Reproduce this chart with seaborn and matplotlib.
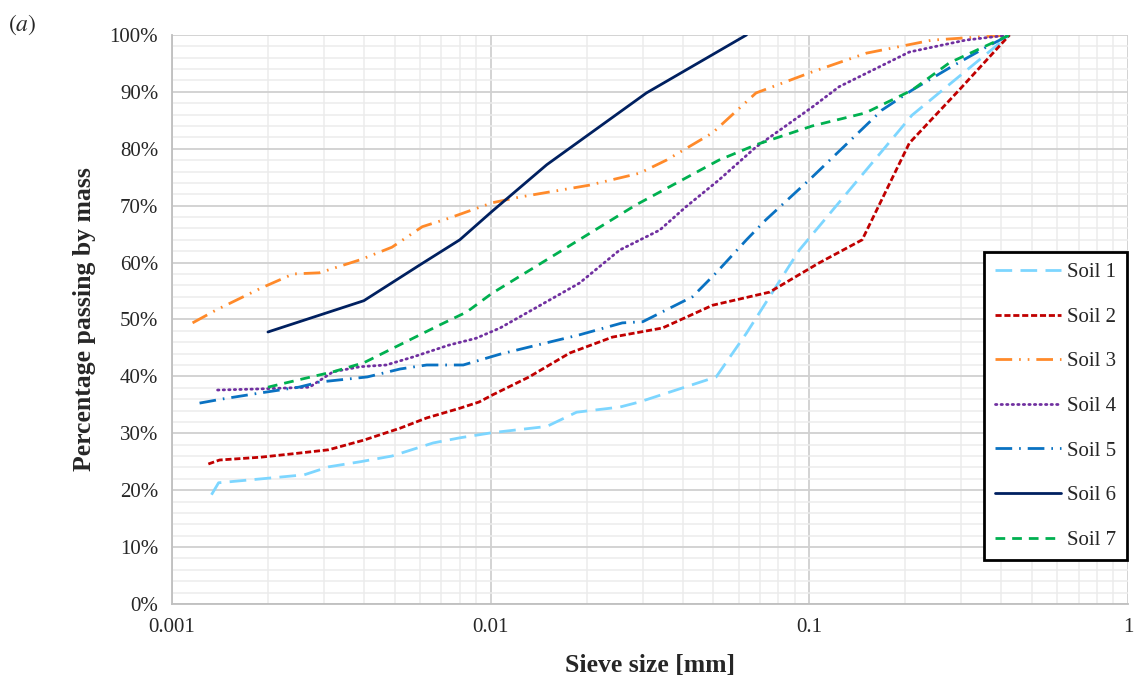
import numpy as np
import pandas as pd
import seaborn as sns
import matplotlib.pyplot as plt
from matplotlib.ticker import FixedLocator, FuncFormatter, MultipleLocator, LogLocator, NullFormatter

# Grain size distribution data (sieve size in mm, percentage passing)
soil1_size = [0.00133, 0.0014, 0.002, 0.0026, 0.0031, 0.0039, 0.0049, 0.0066, 0.008, 0.0101, 0.015, 0.0186, 0.0254, 0.0293, 0.051, 0.0635, 0.093, 0.21, 0.425]
soil1_pass = [19.2, 21.3, 22.1, 22.7, 24.1, 25.0, 26.0, 28.3, 29.2, 30.1, 31.2, 33.7, 34.6, 35.5, 39.9, 47.6, 62.2, 85.9, 100]

soil2_size = [0.0013, 0.00141, 0.0019, 0.0024, 0.0031, 0.004, 0.0052, 0.0063, 0.008, 0.0092, 0.0101, 0.0132, 0.0177, 0.0241, 0.0346, 0.0497, 0.075, 0.107, 0.1465, 0.206, 0.295, 0.425]
soil2_pass = [24.6, 25.3, 25.8, 26.4, 27.1, 28.8, 30.9, 32.7, 34.4, 35.5, 36.7, 39.9, 44.1, 46.9, 48.5, 52.5, 54.8, 59.9, 64.0, 81.0, 90.3, 100]

soil3_size = [0.00116, 0.00138, 0.0019, 0.0024, 0.0029, 0.0039, 0.0049, 0.0061, 0.0074, 0.0101, 0.0123, 0.0204, 0.0293, 0.0356, 0.0497, 0.068, 0.102, 0.151, 0.243, 0.425]
soil3_pass = [49.4, 51.7, 55.5, 58.0, 58.2, 60.5, 62.7, 66.3, 67.8, 70.5, 71.5, 73.6, 75.7, 78.0, 82.8, 89.8, 93.5, 96.8, 99.1, 100]

soil4_size = [0.00139, 0.0019, 0.0027, 0.0032, 0.0039, 0.0047, 0.0057, 0.0074, 0.009, 0.0107, 0.0168, 0.019, 0.0254, 0.0339, 0.041, 0.052, 0.068, 0.102, 0.124, 0.206, 0.31, 0.425]
soil4_pass = [37.6, 37.8, 38.1, 40.8, 41.7, 42.0, 43.4, 45.5, 46.7, 48.5, 54.7, 56.4, 62.2, 65.7, 69.8, 74.5, 80.3, 87.3, 90.9, 97.0, 99.1, 100]

soil5_size = [0.00122, 0.00143, 0.0019, 0.0025, 0.0029, 0.0041, 0.0052, 0.0063, 0.0082, 0.0107, 0.0133, 0.019, 0.0259, 0.03, 0.043, 0.051, 0.0635, 0.073, 0.102, 0.169, 0.21, 0.275, 0.36, 0.425]
soil5_pass = [35.3, 36.0, 37.1, 38.1, 39.0, 39.9, 41.3, 42.0, 42.0, 43.9, 45.2, 47.3, 49.4, 49.6, 54.0, 58.2, 64.0, 67.5, 75.0, 86.8, 90.3, 94.2, 97.9, 100]

soil6_size = [0.002, 0.004, 0.006, 0.008, 0.0101, 0.015, 0.0308, 0.0635]
soil6_pass = [47.8, 53.3, 59.6, 64.0, 69.0, 77.2, 89.8, 100]

soil7_size = [0.002, 0.0025, 0.0032, 0.004, 0.0069, 0.0084, 0.0101, 0.015, 0.0285, 0.052, 0.068, 0.102, 0.15, 0.21, 0.275, 0.425]
soil7_pass = [38.1, 39.4, 40.8, 42.4, 49.0, 51.3, 54.6, 60.5, 70.1, 78.0, 80.7, 84.0, 86.3, 90.3, 95.1, 100]

soil_names = ["Soil 1", "Soil 2", "Soil 3", "Soil 4", "Soil 5", "Soil 6", "Soil 7"]
soil_sizes = [soil1_size, soil2_size, soil3_size, soil4_size, soil5_size, soil6_size, soil7_size]
soil_passing = [soil1_pass, soil2_pass, soil3_pass, soil4_pass, soil5_pass, soil6_pass, soil7_pass]

colors = ["#7DD6FF", "#C00000", "#FF8A2A", "#7030A0", "#0A72C2", "#002060", "#00B050"]
dashes = [(6, 3), (2.2, 1), (6, 2.5, 0.6, 2.5, 0.6, 2.5), (0.5, 1.5), (6, 2.5, 0.6, 2.5), (), (3.5, 2.5)]

rows = []
for name, xs, ys in zip(soil_names, soil_sizes, soil_passing):
    for x, y in zip(xs, ys):
        rows.append({"Soil": name, "Size": x, "Passing": y})
df = pd.DataFrame(rows)

sns.set_style("white")
plt.rcParams['font.family'] = ['Liberation Serif', 'DejaVu Serif']
plt.rcParams['mathtext.fontset'] = 'stix'

fig = plt.figure(figsize=(11.34, 6.8), dpi=100)
ax = fig.add_axes([0.1517, 0.1118, 0.843, 0.8368])

for i, name in enumerate(soil_names):
    sub = df[df["Soil"] == name]
    sns.lineplot(data=sub, x="Size", y="Passing", ax=ax, color=colors[i],
                 linewidth=2.0, label=name, sort=False, estimator=None)
    ln = ax.get_lines()[-1]
    if dashes[i]:
        ln.set_dashes(dashes[i])
    if i == 3:
        ln.set_dash_capstyle('round')

ax.set_xscale('log')
ax.set_xlim(0.001, 1)
ax.set_ylim(0, 100)

ax.xaxis.set_major_locator(FixedLocator([0.001, 0.01, 0.1, 1]))
ax.xaxis.set_major_formatter(FuncFormatter(lambda v, p: '{:g}'.format(v)))
ax.xaxis.set_minor_locator(LogLocator(base=10, subs=np.arange(2, 10)))
ax.xaxis.set_minor_formatter(NullFormatter())
ax.yaxis.set_major_locator(MultipleLocator(10))
ax.yaxis.set_minor_locator(MultipleLocator(2))
ax.yaxis.set_major_formatter(FuncFormatter(lambda v, p: '%d%%' % v))

ax.grid(True, which='major', color='#d0d0d0', linewidth=1.3)
ax.grid(True, which='minor', color='#ececec', linewidth=1.1)
ax.set_axisbelow(True)

for s in ['top', 'right']:
    ax.spines[s].set_visible(False)
for s in ['left', 'bottom']:
    ax.spines[s].set_color('#bfbfbf')
    ax.spines[s].set_linewidth(1.3)

ax.tick_params(axis='both', which='major', labelsize=15, length=4, color='#bfbfbf', pad=6)
ax.tick_params(axis='both', which='minor', length=0)

ax.set_xlabel("Sieve size [mm]", fontsize=18.5, fontweight='bold', labelpad=12)
ax.set_ylabel("Percentage passing by mass", fontsize=18.5, fontweight='bold')
ax.yaxis.set_label_coords(-0.080, 0.5)

leg = ax.legend(loc='upper right', bbox_to_anchor=(0.999, 0.618), fontsize=15,
                handlelength=3.2, handletextpad=0.3, labelspacing=1.2,
                borderaxespad=0, borderpad=0.5, fancybox=False, framealpha=1)
leg.get_frame().set_edgecolor('black')
leg.get_frame().set_linewidth(2)

fig.text(0.007, 0.955, "$(a)$", fontsize=17)

fig.savefig("out.png", dpi=100)
